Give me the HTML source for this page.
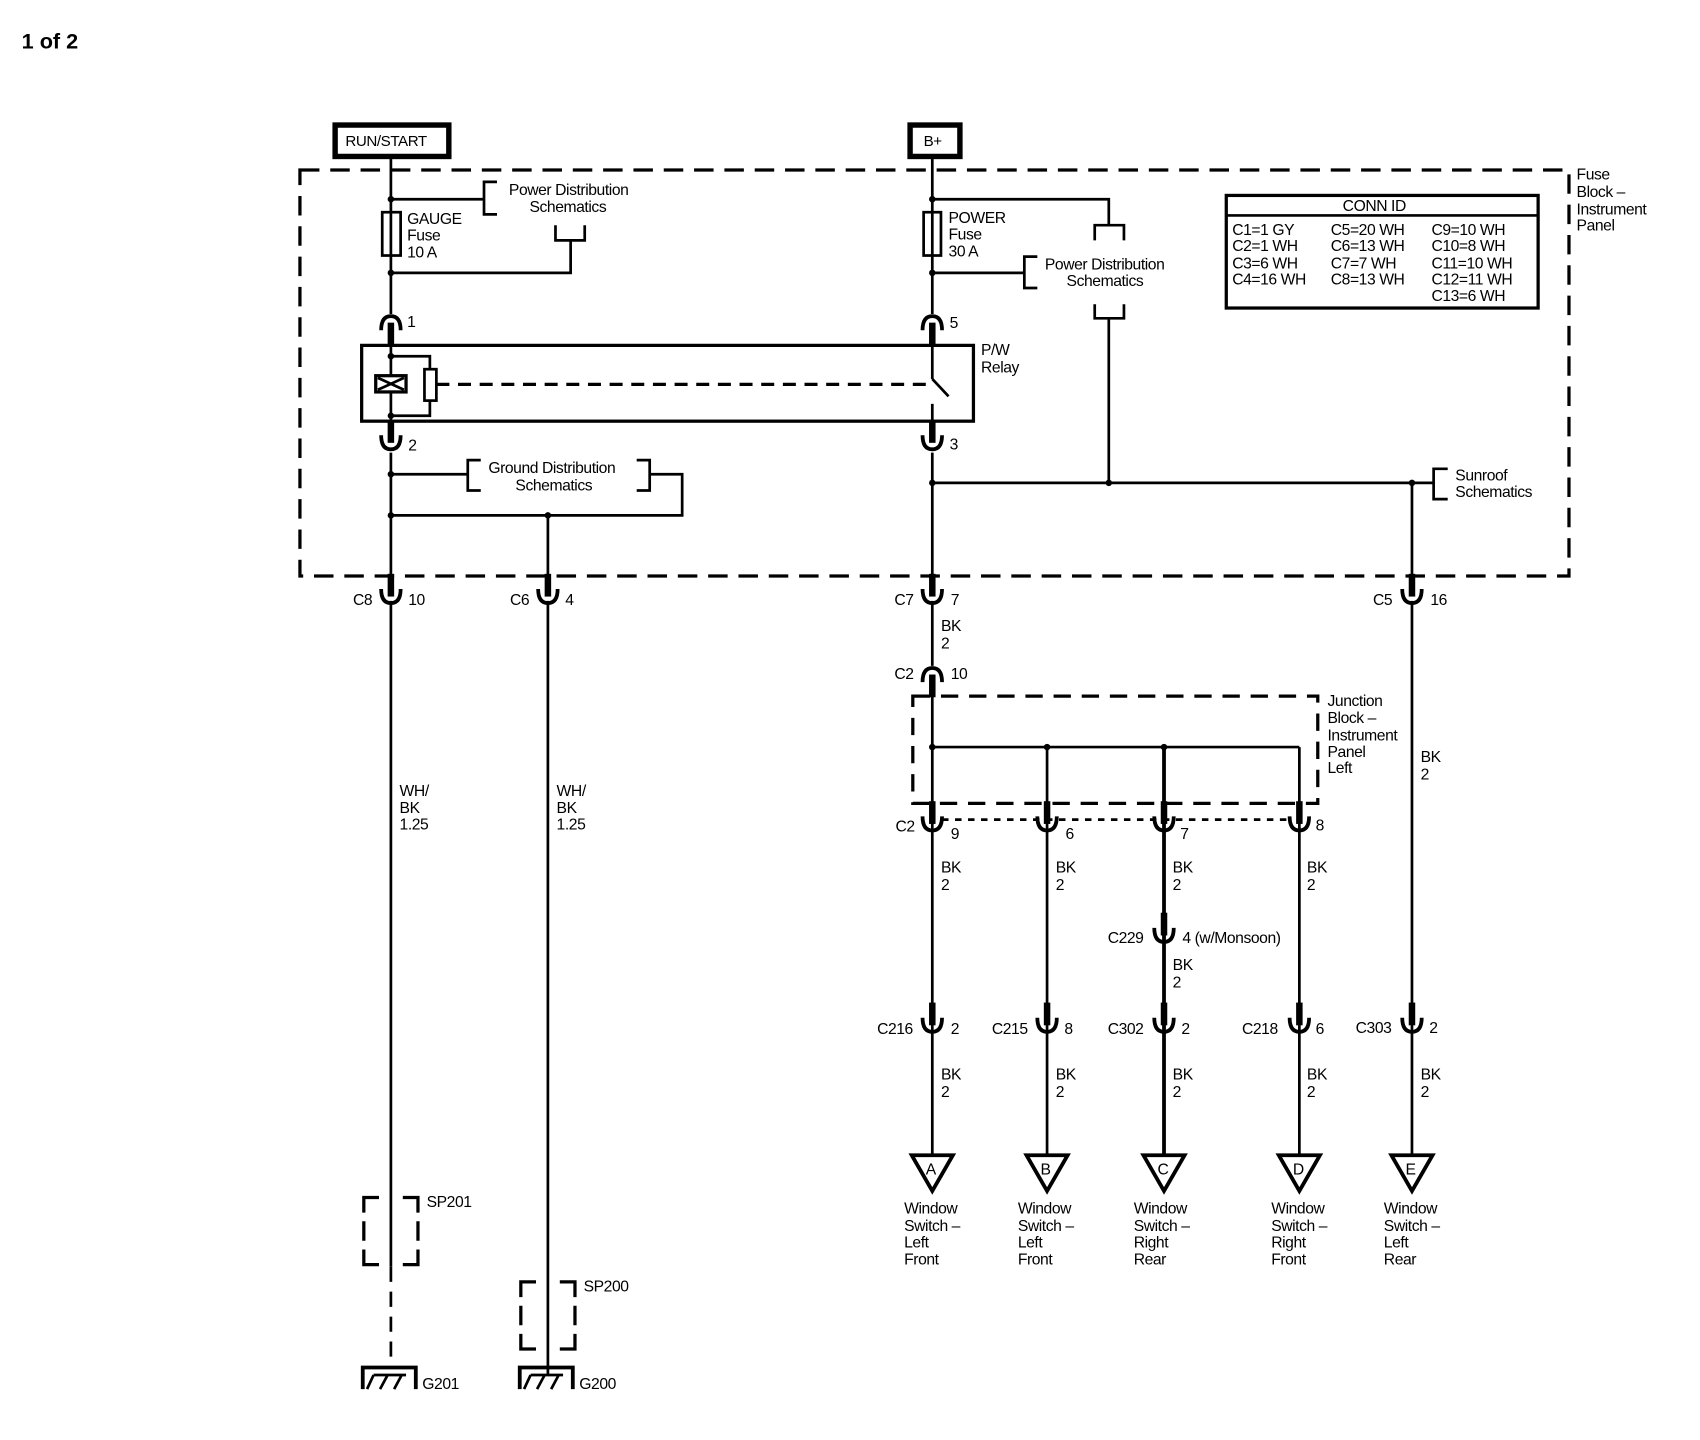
<!DOCTYPE html>
<html><head><meta charset="utf-8"><style>
html,body{margin:0;padding:0;background:#fff;}
svg{display:block;}
text{font-family:"Liberation Sans",sans-serif;font-size:14.5px;fill:#000;letter-spacing:-0.4px;}
.b{font-weight:bold;}
</style></head><body>
<svg width="1700" height="1440" viewBox="0 0 1570 1330" preserveAspectRatio="none" xmlns="http://www.w3.org/2000/svg">
<defs>
<g id="cup"><path d="M-9 -8 Q-9 5 0 5 Q9 5 9 -8" stroke="#000" stroke-width="3.5" fill="none"/><line x1="0" y1="-22" x2="0" y2="-1" stroke="#000" stroke-width="6"/></g>
<g id="cap"><path d="M-9 8 Q-9 -5 0 -5 Q9 -5 9 8" stroke="#000" stroke-width="3.5" fill="none"/><line x1="0" y1="1" x2="0" y2="22" stroke="#000" stroke-width="6"/></g>
<g id="tri"><path d="M-19 0 L19 0 L0 33 Z" stroke="#000" stroke-width="3.5" fill="#fff"/></g>
</defs>
<text x="20" y="45" class="b" style="font-size:20px;letter-spacing:0">1 of 2</text>

<!-- top boxes -->
<rect x="309.5" y="115.5" width="105" height="29" fill="none" stroke="#000" stroke-width="5"/>
<text x="319" y="135" style="font-size:14px">RUN/START</text>
<rect x="840.5" y="115.5" width="46" height="29" fill="none" stroke="#000" stroke-width="5"/>
<text x="853" y="135" style="font-size:14px">B+</text>

<!-- outer dashed box -->
<rect x="277" y="157" width="1172" height="375" fill="none" stroke="#000" stroke-width="3" stroke-dasharray="18,10"/>
<text x="1456" y="166">Fuse</text><text x="1456" y="182">Block –</text><text x="1456" y="198">Instrument</text><text x="1456" y="213">Panel</text>

<g stroke="#000" stroke-width="2.5" fill="none">
<!-- left wire -->
<line x1="361" y1="146" x2="361" y2="290"/>
<line x1="361" y1="184" x2="447" y2="184"/>
<path d="M459 168 H447 V198 H459"/>
<path d="M513 208 V222 H540 V208"/>
<path d="M527 222 V252 H361"/>
<rect x="353" y="196" width="17" height="40" fill="#fff"/>
<line x1="361" y1="196" x2="361" y2="236"/>
<!-- relay -->
<rect x="334" y="319" width="565" height="70" stroke-width="3"/>
<line x1="361" y1="319" x2="361" y2="389"/>
<path d="M361 329 H397 V341"/>
<path d="M397 370 V384 H361"/>
<rect x="392" y="341" width="11" height="29" fill="#fff"/>
<rect x="347" y="347" width="28" height="15" fill="#fff" stroke-width="3"/>
<path d="M349 349 L373 360 M373 349 L349 360"/>
<line x1="403" y1="355" x2="858" y2="355" stroke-width="3" stroke-dasharray="12,8"/>
<line x1="861" y1="312" x2="861" y2="350"/>
<line x1="861" y1="350" x2="876" y2="366"/>
<line x1="861" y1="373" x2="861" y2="400"/>
<!-- ground dist -->
<line x1="361" y1="418" x2="361" y2="540"/>
<line x1="361" y1="438" x2="432" y2="438"/>
<path d="M444 425 H432 V453 H444"/>
<path d="M588 425 H600 V453 H588"/>
<path d="M600 438 H630 V476 H361"/>
<line x1="506" y1="476" x2="506" y2="540"/>
<!-- B+ wire -->
<line x1="861" y1="146" x2="861" y2="290"/>
<path d="M861 184 H1024 V208"/>
<path d="M1011 222 V208 H1038 V222"/>
<line x1="861" y1="252" x2="946" y2="252"/>
<path d="M958 237 H946 V266 H958"/>
<path d="M1011 281 V294 H1038 V281"/>
<line x1="1024" y1="294" x2="1024" y2="446"/>
<rect x="853" y="196" width="16" height="40" fill="#fff"/>
<line x1="861" y1="196" x2="861" y2="236"/>
<line x1="861" y1="418" x2="861" y2="540"/>
<line x1="861" y1="446" x2="1324" y2="446"/>
<path d="M1337 433 H1324 V461 H1337"/>
<line x1="1304" y1="446" x2="1304" y2="540"/>
<!-- lower wires -->
<line x1="361" y1="555" x2="361" y2="1170"/>
<line x1="361" y1="1170" x2="361" y2="1262" stroke-dasharray="14,9"/>
<line x1="506" y1="555" x2="506" y2="1270"/>
<line x1="861" y1="555" x2="861" y2="615"/>
<line x1="861" y1="630" x2="861" y2="1068"/>
<line x1="1304" y1="555" x2="1304" y2="1068"/>
<line x1="861" y1="690" x2="1200" y2="690"/>
<line x1="967" y1="690" x2="967" y2="1068"/>
<line x1="1075" y1="690" x2="1075" y2="1068" stroke-width="3.5"/>
<line x1="1200" y1="690" x2="1200" y2="1068"/>
<!-- junction block -->
<rect x="843" y="643" width="374" height="99" stroke-width="3" stroke-dasharray="16,10"/>
<line x1="870" y1="757" x2="1192" y2="757" stroke-dasharray="6,6"/>
<!-- splices -->
<path d="M336 1120 V1106 H350 M372 1106 H386 V1120 M336 1128 V1146 M386 1128 V1146 M336 1154 V1168 H350 M372 1168 H386 V1154" stroke-width="3"/>
<path d="M481 1198 V1184 H495 M517 1184 H531 V1198 M481 1206 V1224 M531 1206 V1224 M481 1232 V1246 H495 M517 1246 H531 V1232" stroke-width="3"/>
<!-- grounds -->
<path d="M335 1283 V1263 H384 V1283" stroke-width="3.5"/>
<path d="M339 1283 L345 1270 M351 1283 L358 1270 M364 1283 L371 1270 M345 1270 H375" stroke-width="2.5"/>
<path d="M480 1283 V1263 H529 V1283" stroke-width="3.5"/>
<path d="M484 1283 L490 1270 M496 1283 L503 1270 M509 1283 L516 1270 M490 1270 H520" stroke-width="2.5"/>
</g>

<!-- dots -->
<g fill="#000">
<circle cx="361" cy="184" r="3"/><circle cx="361" cy="252" r="3"/>
<circle cx="361" cy="329" r="3"/><circle cx="361" cy="384" r="3"/>
<circle cx="361" cy="438" r="3"/><circle cx="361" cy="476" r="3"/><circle cx="506" cy="476" r="3"/>
<circle cx="861" cy="184" r="3"/><circle cx="861" cy="252" r="3"/>
<circle cx="861" cy="446" r="3"/><circle cx="1024" cy="446" r="3"/><circle cx="1304" cy="446" r="3"/>
<circle cx="861" cy="690" r="3"/><circle cx="967" cy="690" r="3"/><circle cx="1075" cy="690" r="3"/>
</g>

<!-- connectors -->
<use href="#cap" x="361" y="297"/><use href="#cap" x="861" y="297"/>
<g transform="translate(361,410) scale(1,-1)"><use href="#cap"/></g>
<g transform="translate(861,410) scale(1,-1)"><use href="#cap"/></g>
<use href="#cup" x="361" y="552"/><use href="#cup" x="506" y="552"/>
<use href="#cup" x="861" y="552"/><use href="#cup" x="1304" y="552"/>
<use href="#cap" x="861" y="622"/>
<use href="#cup" x="861" y="762"/><use href="#cup" x="967" y="762"/><use href="#cup" x="1075" y="762"/><use href="#cup" x="1200" y="762"/>
<use href="#cup" x="1075" y="865"/>
<use href="#cup" x="861" y="948"/><use href="#cup" x="967" y="948"/><use href="#cup" x="1075" y="948"/><use href="#cup" x="1200" y="948"/><use href="#cup" x="1304" y="948"/>
<use href="#tri" x="861" y="1067"/><use href="#tri" x="967" y="1067"/><use href="#tri" x="1075" y="1067"/><use href="#tri" x="1200" y="1067"/><use href="#tri" x="1304" y="1067"/>

<!-- labels -->
<text x="470" y="180">Power Distribution</text><text x="489" y="196">Schematics</text>
<text x="376" y="207">GAUGE</text><text x="376" y="222">Fuse</text><text x="376" y="238">10 A</text>
<text x="876" y="206">POWER</text><text x="876" y="221">Fuse</text><text x="876" y="237">30 A</text>
<text x="965" y="249">Power Distribution</text><text x="985" y="264">Schematics</text>
<text x="376" y="302">1</text><text x="877" y="303">5</text>
<text x="906" y="328">P/W</text><text x="906" y="344">Relay</text>
<text x="377" y="416">2</text><text x="877" y="415">3</text>
<text x="451" y="437">Ground Distribution</text><text x="476" y="453">Schematics</text>
<text x="1344" y="444">Sunroof</text><text x="1344" y="459">Schematics</text>

<rect x="1132.5" y="180.5" width="288" height="104" fill="none" stroke="#000" stroke-width="3"/>
<line x1="1132" y1="199" x2="1420" y2="199" stroke="#000" stroke-width="2.5"/>
<text x="1240" y="195">CONN ID</text>
<text x="1138" y="217">C1=1 GY</text><text x="1138" y="232">C2=1 WH</text><text x="1138" y="248">C3=6 WH</text><text x="1138" y="263">C4=16 WH</text>
<text x="1229" y="217">C5=20 WH</text><text x="1229" y="232">C6=13 WH</text><text x="1229" y="248">C7=7 WH</text><text x="1229" y="263">C8=13 WH</text>
<text x="1322" y="217">C9=10 WH</text><text x="1322" y="232">C10=8 WH</text><text x="1322" y="248">C11=10 WH</text><text x="1322" y="263">C12=11 WH</text><text x="1322" y="278">C13=6 WH</text>

<text x="326" y="559">C8</text><text x="377" y="559">10</text>
<text x="471" y="559">C6</text><text x="522" y="559">4</text>
<text x="826" y="559">C7</text><text x="878" y="559">7</text>
<text x="1268" y="559">C5</text><text x="1321" y="559">16</text>
<text x="369" y="735">WH/</text><text x="369" y="751">BK</text><text x="369" y="766">1.25</text>
<text x="514" y="735">WH/</text><text x="514" y="751">BK</text><text x="514" y="766">1.25</text>
<text x="869" y="583">BK</text><text x="869" y="599">2</text>
<text x="826" y="627">C2</text><text x="878" y="627">10</text>
<text x="1226" y="652">Junction</text><text x="1226" y="668">Block –</text><text x="1226" y="684">Instrument</text><text x="1226" y="699">Panel</text><text x="1226" y="714">Left</text>
<text x="1312" y="704">BK</text><text x="1312" y="720">2</text>
<text x="827" y="768">C2</text><text x="878" y="775">9</text><text x="984" y="775">6</text><text x="1090" y="775">7</text><text x="1215" y="767">8</text>
<text x="869" y="806">BK</text><text x="869" y="822">2</text>
<text x="975" y="806">BK</text><text x="975" y="822">2</text>
<text x="1083" y="806">BK</text><text x="1083" y="822">2</text>
<text x="1207" y="806">BK</text><text x="1207" y="822">2</text>
<text x="1023" y="871">C229</text><text x="1092" y="871">4 (w/Monsoon)</text>
<text x="1083" y="896">BK</text><text x="1083" y="912">2</text>
<text x="810" y="955">C216</text><text x="878" y="955">2</text>
<text x="916" y="955">C215</text><text x="983" y="955">8</text>
<text x="1023" y="955">C302</text><text x="1091" y="955">2</text>
<text x="1147" y="955">C218</text><text x="1215" y="955">6</text>
<text x="1252" y="954">C303</text><text x="1320" y="954">2</text>
<text x="869" y="997">BK</text><text x="869" y="1013">2</text>
<text x="975" y="997">BK</text><text x="975" y="1013">2</text>
<text x="1083" y="997">BK</text><text x="1083" y="1013">2</text>
<text x="1207" y="997">BK</text><text x="1207" y="1013">2</text>
<text x="1312" y="997">BK</text><text x="1312" y="1013">2</text>
<text x="855" y="1085">A</text><text x="961" y="1085">B</text><text x="1069" y="1085">C</text><text x="1194" y="1085">D</text><text x="1298" y="1085">E</text>
<text x="835" y="1121">Window</text><text x="835" y="1137">Switch –</text><text x="835" y="1152">Left</text><text x="835" y="1168">Front</text>
<text x="940" y="1121">Window</text><text x="940" y="1137">Switch –</text><text x="940" y="1152">Left</text><text x="940" y="1168">Front</text>
<text x="1047" y="1121">Window</text><text x="1047" y="1137">Switch –</text><text x="1047" y="1152">Right</text><text x="1047" y="1168">Rear</text>
<text x="1174" y="1121">Window</text><text x="1174" y="1137">Switch –</text><text x="1174" y="1152">Right</text><text x="1174" y="1168">Front</text>
<text x="1278" y="1121">Window</text><text x="1278" y="1137">Switch –</text><text x="1278" y="1152">Left</text><text x="1278" y="1168">Rear</text>
<text x="394" y="1115">SP201</text><text x="539" y="1193">SP200</text>
<text x="390" y="1283">G201</text><text x="535" y="1283">G200</text>
</svg>
</body></html>
